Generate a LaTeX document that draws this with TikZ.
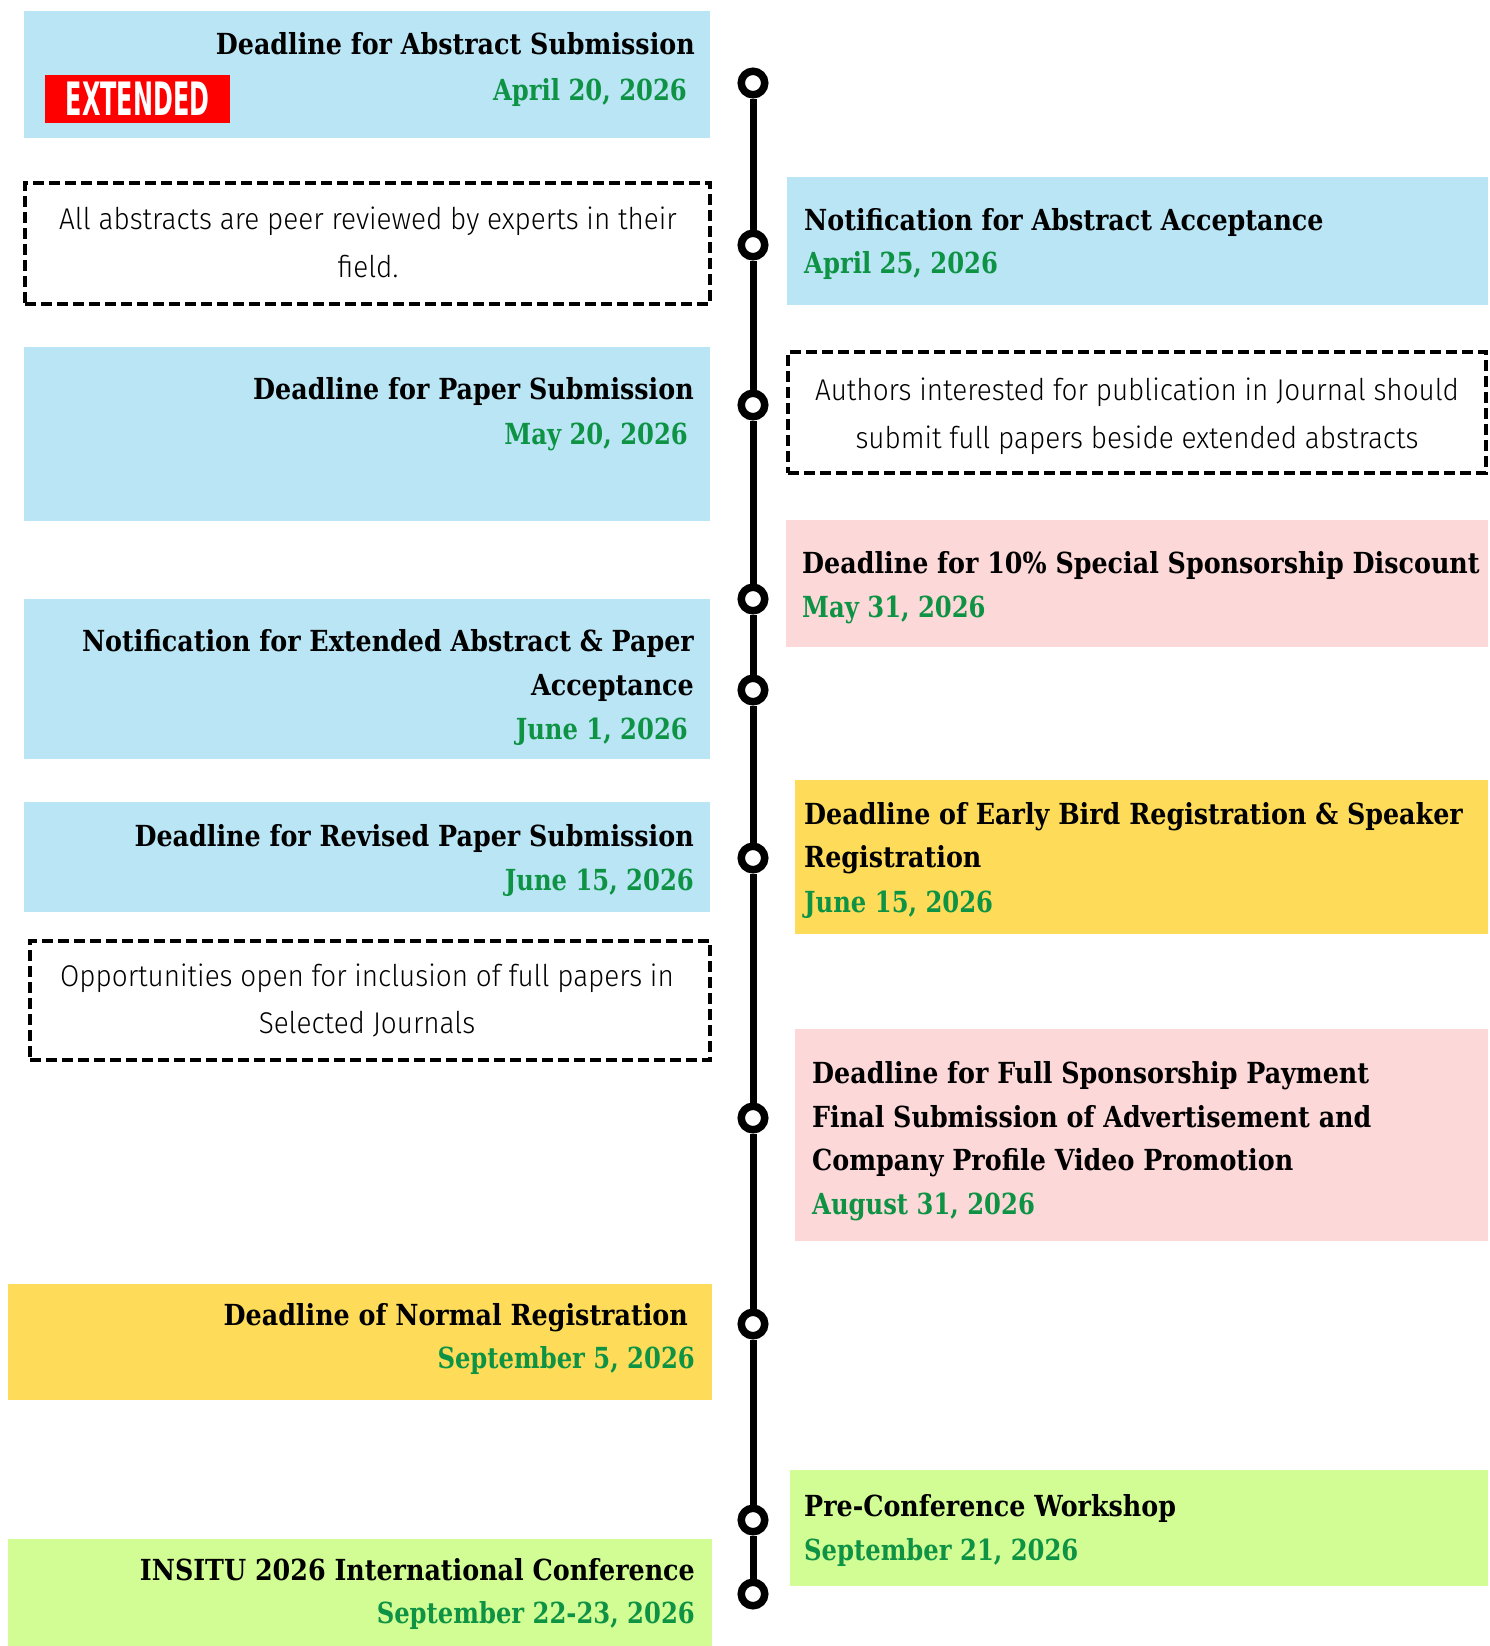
\documentclass[tikz,border=0pt]{standalone}
\usepackage{fontspec}
\newfontfamily\slab{DejaVu Serif}[FakeStretch=0.875]
\newfontfamily\slabd{DejaVu Serif}[FakeStretch=0.837]
\newfontfamily\lite{Fira Sans}[UprightFont={* Light},FakeStretch=0.93]
\newfontfamily\cond{DejaVu Sans}[FakeStretch=0.52]
\definecolor{cblue}{HTML}{B9E5F5}
\definecolor{cpink}{HTML}{FDD8D9}
\definecolor{cyellow}{HTML}{FEDC5A}
\definecolor{clime}{HTML}{D2FD95}
\definecolor{cdate}{HTML}{0E9345}
\definecolor{cred}{HTML}{FF0000}
\begin{document}
\begin{tikzpicture}[x=1pt,y=-1pt,
  box/.style={draw=none,inner sep=0pt,outer sep=0pt,anchor=north west},
  bluebox/.style={box,fill=cblue},
  pinkbox/.style={box,fill=cpink},
  yellowbox/.style={box,fill=cyellow},
  limebox/.style={box,fill=clime},
  notebox/.style={box,draw=black,line width=4pt,dash pattern=on 11pt off 5pt},
  ttl/.style={font=\slab\bfseries\fontsize{29}{35}\selectfont,inner sep=0pt,text=black},
  dte/.style={font=\slabd\bfseries\fontsize{29}{35}\selectfont,inner sep=0pt,text=cdate},
  note/.style={font=\lite\fontsize{30}{36}\selectfont,inner sep=0pt,anchor=base},
  dot/.style={circle,draw=black,line width=7.5pt,fill=white,minimum size=23.5pt,inner sep=0pt},
  tl/.style={line width=7pt,draw=black}]
\useasboundingbox (0,0) rectangle (1489,1646);
% ---------- left column ----------
\node[bluebox,minimum width=686pt,minimum height=127pt] (L1) at (24,11) {};
\node[box,fill=cred,minimum width=185pt,minimum height=48pt] (ext) at (45,75) {};
\node[font=\cond\bfseries\fontsize{46}{46}\selectfont,text=white,inner sep=0pt] (extt) at (ext.center) {EXTENDED};
\node[ttl,anchor=base east] (L1t) at (695,55) {Deadline for Abstract Submission};
\node[dte,anchor=base east] (L1d) at (687,100) {April 20, 2026};

\node[notebox,minimum width=685pt,minimum height=121pt] (L2) at (25,183) {};
\node[note] (L2a) at (368,229) {All abstracts are peer reviewed by experts in their};
\node[note] (L2b) at (368,277) {field.};

\node[bluebox,minimum width=686pt,minimum height=174pt] (L3) at (24,347) {};
\node[ttl,anchor=base east] (L3t) at (694,399) {Deadline for Paper Submission};
\node[dte,anchor=base east] (L3d) at (688,444) {May 20, 2026};

\node[bluebox,minimum width=686pt,minimum height=160pt] (L4) at (24,599) {};
\node[ttl,anchor=base east] (L4t) at (694,651) {Notification for Extended Abstract \& Paper};
\node[ttl,anchor=base east] (L4u) at (694,695) {Acceptance};
\node[dte,anchor=base east] (L4d) at (688,739) {June 1, 2026};

\node[bluebox,minimum width=686pt,minimum height=110pt] (L5) at (24,802) {};
\node[ttl,anchor=base east] (L5t) at (694,846) {Deadline for Revised Paper Submission};
\node[dte,anchor=base east] (L5d) at (694,890) {June 15, 2026};

\node[notebox,minimum width=680pt,minimum height=119pt] (L6) at (30,941) {};
\node[note] (L6a) at (367,986) {Opportunities open for inclusion of full papers in};
\node[note] (L6b) at (367,1033) {Selected Journals};

\node[yellowbox,minimum width=704pt,minimum height=116pt] (L7) at (8,1284) {};
\node[ttl,anchor=base east] (L7t) at (688,1325) {Deadline of Normal Registration};
\node[dte,anchor=base east] (L7d) at (695,1368) {September 5, 2026};

\node[limebox,minimum width=704pt,minimum height=107pt] (L8) at (8,1539) {};
\node[ttl,anchor=base east] (L8t) at (695,1580) {INSITU 2026 International Conference};
\node[dte,anchor=base east] (L8d) at (695,1623) {September 22-23, 2026};
% ---------- right column ----------
\node[bluebox,minimum width=701pt,minimum height=128pt] (R1) at (787,177) {};
\node[ttl,anchor=base west] (R1t) at (804,230) {Notification for Abstract Acceptance};
\node[dte,anchor=base west] (R1d) at (804,273) {April 25, 2026};

\node[notebox,minimum width=698pt,minimum height=121pt] (R2) at (788,352) {};
\node[note] (R2a) at (1137,400) {Authors interested for publication in Journal should};
\node[note] (R2b) at (1137,448) {submit full papers beside extended abstracts};

\node[pinkbox,minimum width=702pt,minimum height=127pt] (R3) at (786,520) {};
\node[ttl,anchor=base west] (R3t) at (802,573) {Deadline for 10\% Special Sponsorship Discount};
\node[dte,anchor=base west] (R3d) at (802,617) {May 31, 2026};

\node[yellowbox,minimum width=693pt,minimum height=154pt] (R4) at (795,780) {};
\node[ttl,anchor=base west] (R4t) at (804,824) {Deadline of Early Bird Registration \& Speaker};
\node[ttl,anchor=base west] (R4u) at (804,867) {Registration};
\node[dte,anchor=base west] (R4d) at (804,912) {June 15, 2026};

\node[pinkbox,minimum width=693pt,minimum height=212pt] (R5) at (795,1029) {};
\node[ttl,anchor=base west] (R5t) at (812,1083) {Deadline for Full Sponsorship Payment};
\node[ttl,anchor=base west] (R5u) at (812,1127) {Final Submission of Advertisement and};
\node[ttl,anchor=base west] (R5v) at (812,1170) {Company Profile Video Promotion};
\node[dte,anchor=base west] (R5d) at (812,1214) {August 31, 2026};

\node[limebox,minimum width=698pt,minimum height=116pt] (R6) at (790,1470) {};
\node[ttl,anchor=base west] (R6t) at (804,1516) {Pre-Conference Workshop};
\node[dte,anchor=base west] (R6d) at (804,1560) {September 21, 2026};
% ---------- timeline ----------
\node[dot] (d1) at (753,83) {};
\node[dot] (d2) at (753,245) {};
\node[dot] (d3) at (753,405) {};
\node[dot] (d4) at (753,599) {};
\node[dot] (d5) at (753,690) {};
\node[dot] (d6) at (753,858) {};
\node[dot] (d7) at (753,1118) {};
\node[dot] (d8) at (753,1324) {};
\node[dot] (d9) at (753,1520) {};
\node[dot] (d10) at (753,1594) {};
\foreach \a/\b in {d1/d2,d2/d3,d3/d4,d4/d5,d5/d6,d6/d7,d7/d8,d8/d9,d9/d10}
  \draw[tl] (\a) -- (\b);
\end{tikzpicture}
\end{document}
